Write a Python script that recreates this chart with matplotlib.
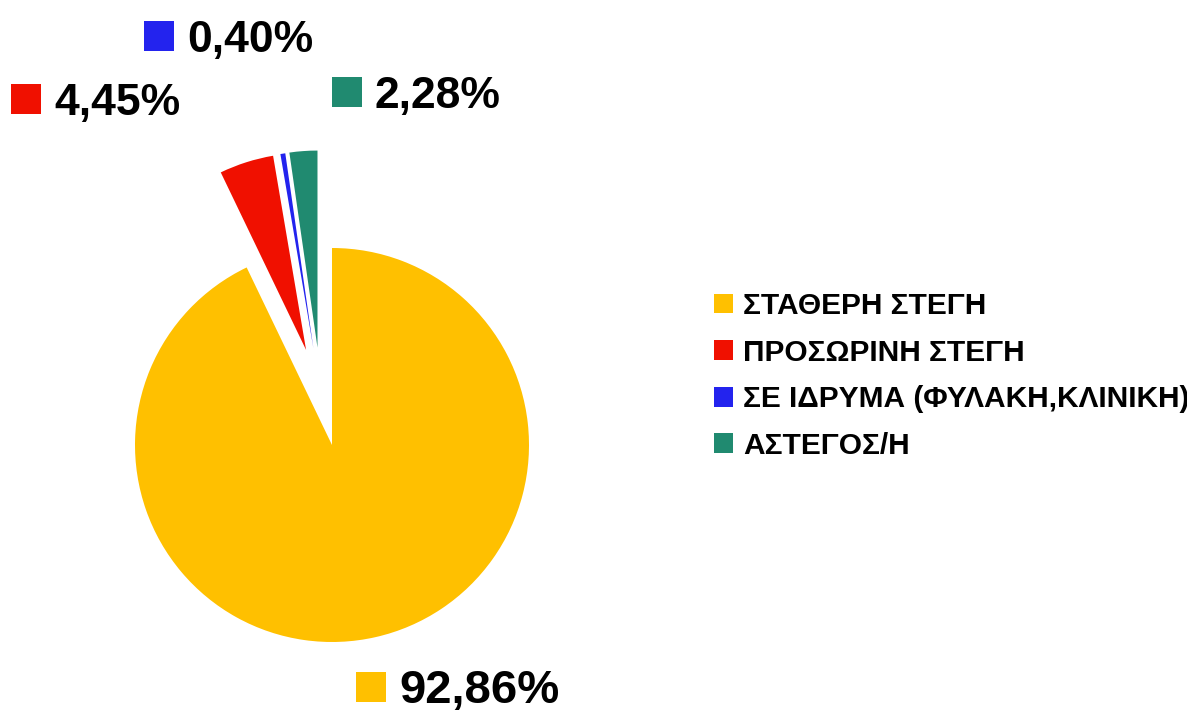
import matplotlib
matplotlib.use("Agg")
import numpy as np
import matplotlib.pyplot as plt

# data
labels = ['ΣΤΑΘΕΡΗ ΣΤΕΓΗ', 'ΠΡΟΣΩΡΙΝΗ ΣΤΕΓΗ', 'ΣΕ ΙΔΡΥΜΑ (ΦΥΛΑΚΗ,ΚΛΙΝΙΚΗ)', 'ΑΣΤΕΓΟΣ/Η']
values = [92.86, 4.45, 0.40, 2.28]
colors = ['#FFC000', '#F01000', '#2323EE', '#208A70']
explode = [0, 0.5, 0.5, 0.5]   # fraction of the radius

plt.rcParams['font.family'] = ['Liberation Sans', 'DejaVu Sans']

W, H = 1187, 713
R = 197
C = (332, H - 445)
fig = plt.figure(figsize=(W / 100, H / 100), dpi=100)
ax = fig.add_axes([0, 0, 1, 1])

# pie, drawn in pixel-like units
wedges, _ = ax.pie(values, colors=colors, startangle=90, counterclock=False,
                   center=C, radius=R,
                   wedgeprops=dict(linewidth=0), frame=True)

# explode the small slices: direction halfway between each slice's own
# mid-angle and the mid-angle of the exploded group (closer to the Excel look)
grp = [w for w, e in zip(wedges, explode) if e > 0]
grp_mid = np.deg2rad((min(w.theta1 for w in grp) + max(w.theta2 for w in grp)) / 2)
for w, e in zip(wedges, explode):
    if e == 0:
        continue
    mid = np.deg2rad((w.theta1 + w.theta2) / 2)
    a = (mid + grp_mid) / 2
    w.set_center((C[0] + e * R * np.cos(a), C[1] + e * R * np.sin(a)))

ax.set_xlim(0, W)
ax.set_ylim(0, H)
ax.set_aspect('equal')
ax.axis('off')

# percentage labels with colour keys (Excel style)
label_pos = [(356, 703), (11, 115), (144, 52), (332, 108)]
label_size = [34, 32, 32, 32]
for v, c, (x, y), fs in zip(values, colors, label_pos, label_size):
    txt = f'{v:.2f}%'.replace('.', ',')
    ax.add_patch(plt.Rectangle((x, H - y + 1), 30, 30, color=c, lw=0))
    ax.text(x + 43, H - y, txt, fontsize=fs, fontweight='bold',
            ha='left', va='baseline')

# legend
ax.legend(wedges, labels, loc='upper left', bbox_to_anchor=(714, H - 292),
          bbox_transform=ax.transData, frameon=False,
          prop=dict(weight='bold', size=21.5),
          handlelength=0.65, handleheight=0.65, handletextpad=0.32,
          labelspacing=0.62, borderpad=0, borderaxespad=0)

fig.savefig('out.png', dpi=100)
